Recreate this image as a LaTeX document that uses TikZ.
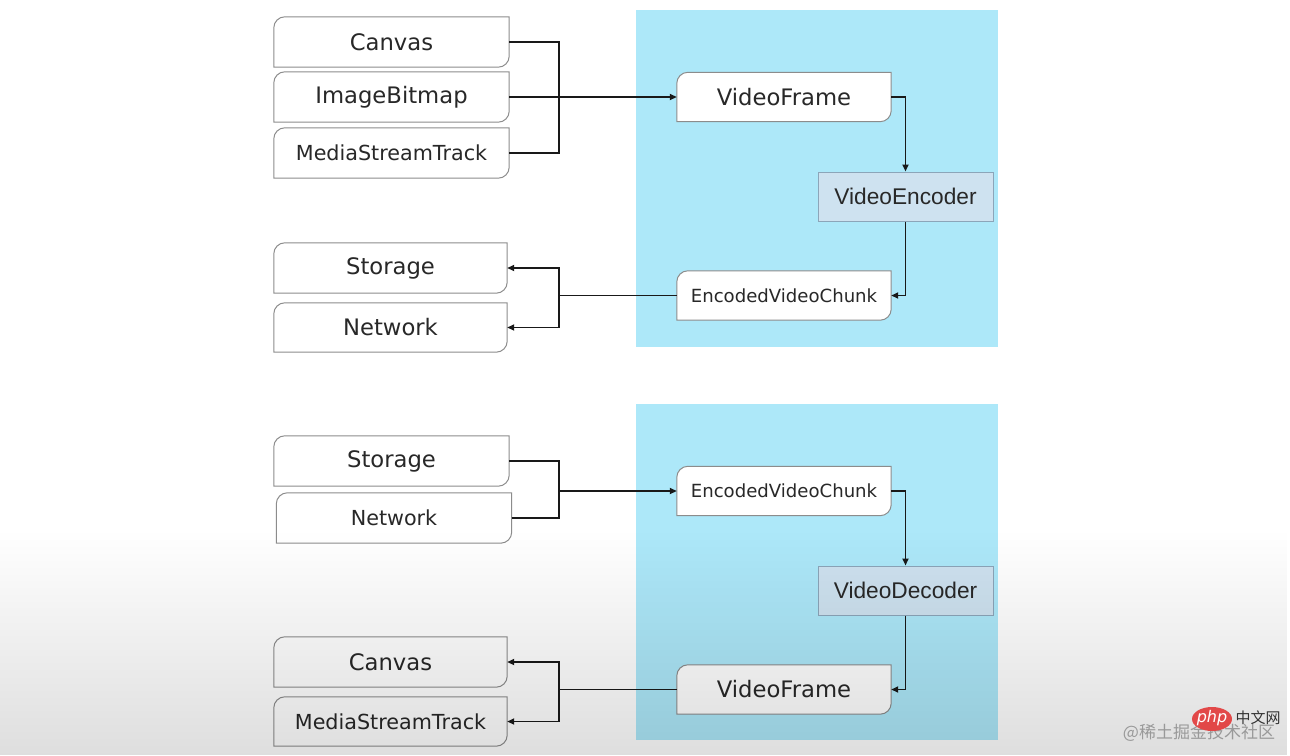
\documentclass[tikz,border=0pt]{standalone}
\usepackage{fontspec}
\setmainfont{DejaVu Sans}
\newfontfamily\arialfont{Liberation Sans}
\newfontfamily\cjkfont{Noto Sans CJK SC}
\usetikzlibrary{arrows.meta,fadings}
\definecolor{panelblue}{RGB}{173,232,249}
\definecolor{codecfill}{RGB}{206,226,240}
\definecolor{codecline}{RGB}{140,165,185}
\definecolor{boxline}{RGB}{140,140,140}
\definecolor{wirecol}{RGB}{25,25,25}
\definecolor{textgray}{RGB}{40,40,40}
\definecolor{phpred}{RGB}{226,72,72}
\pgfdeclarelayer{panel}
\pgfdeclarelayer{fill}
\pgfsetlayers{panel,fill,main}
\tikzset{
  srcbox/.style={inner sep=0pt, minimum width=235pt, minimum height=50pt, text=textgray, font=\fontsize{22.7}{26}\selectfont},
  codec/.style={draw=codecline, fill=codecfill, line width=1pt, inner sep=0pt, minimum width=175pt, minimum height=49pt, text=textgray, font=\arialfont\fontsize{22.7}{26}\selectfont},
  wire/.style={draw=wirecol, line width=1.8pt},
  feed/.style={wire, -{Triangle[length=7pt,width=6pt]}},
}
\begin{document}
\begin{tikzpicture}[x=1pt, y=-1pt]
    \useasboundingbox (0,0) rectangle (1290,755);
    \begin{pgfonlayer}{panel}
        \fill[white] (0,0) rectangle (1290,755);
        \fill[panelblue] (636,10) rectangle (998,347);
        \fill[panelblue] (636,404) rectangle (998,740);
    \end{pgfonlayer}

    % encoding
    \node [srcbox] at (391.5, 42) (canvasA) {Canvas};
    \node [srcbox] at (391.5, 97) (bitmapA) {ImageBitmap};
    \node [srcbox, font=\fontsize{20.7}{24}\selectfont] at (391.5, 153) (trackA) {MediaStreamTrack};
    \node [srcbox, minimum width=214pt, minimum height=49pt] at (784, 97) (frameA) {VideoFrame};
    \node [codec] at (905.5, 196.5) (encoder) {VideoEncoder};
    \node [srcbox, minimum width=214pt, minimum height=49pt, font=\fontsize{18.1}{22}\selectfont] at (784, 295.5) (chunkA) {EncodedVideoChunk};
    \node [srcbox, minimum width=233pt] at (390.5, 268) (storageA) {Storage};
    \node [srcbox, minimum width=233pt, minimum height=49pt] at (390.5, 327.5) (networkA) {Network};
    \coordinate (jA) at (559, 97);
    \coordinate (jB) at (559, 295.5);
    \draw [wire] (canvasA.east) -| (jA);
    \draw [wire] (trackA.east) -| (jA);
    \draw [feed] (bitmapA.east) -- (frameA.west);
    \draw [feed] (frameA.east) -| (encoder.north);
    \draw [feed] (encoder.south) |- (chunkA.east);
    \draw [wire] (chunkA.west) -- (jB);
    \draw [feed] (jB) |- (storageA.east);
    \draw [feed] (jB) |- (networkA.east);

    % decoding
    \node [srcbox] at (391.5, 461) (storageB) {Storage};
    \node [srcbox, font=\fontsize{20.7}{24}\selectfont] at (394, 518) (networkB) {Network};
    \node [srcbox, minimum width=214pt, minimum height=49pt, font=\fontsize{18.1}{22}\selectfont] at (784, 491) (chunkB) {EncodedVideoChunk};
    \node [codec] at (905.5, 590.5) (decoder) {VideoDecoder};
    \node [srcbox, minimum width=214pt, minimum height=49pt] at (784, 689.5) (frameB) {VideoFrame};
    \node [srcbox, minimum width=233pt] at (390.5, 662) (canvasB) {Canvas};
    \node [srcbox, minimum width=233pt, minimum height=49pt, font=\fontsize{20.7}{24}\selectfont] at (390.5, 721.5) (trackB) {MediaStreamTrack};
    \coordinate (jC) at (559, 491);
    \coordinate (jD) at (559, 689.5);
    \draw [wire] (storageB.east) -| (jC);
    \draw [wire] (networkB.east) -| (jC);
    \draw [feed] (jC) -- (chunkB.west);
    \draw [feed] (chunkB.east) -| (decoder.north);
    \draw [feed] (decoder.south) |- (frameB.east);
    \draw [wire] (frameB.west) -- (jD);
    \draw [feed] (jD) |- (canvasB.east);
    \draw [feed] (jD) |- (trackB.east);

    \begin{pgfonlayer}{fill}
        \foreach \b in {canvasA,bitmapA,trackA,frameA,chunkA,storageA,networkA,storageB,networkB,chunkB,frameB,canvasB,trackB}
            \filldraw [fill=white, draw=boxline, line width=1pt] (\b.south west) -- ([yshift=-11pt]\b.north west) .. controls ([yshift=-5pt]\b.north west) and ([xshift=5pt]\b.north west) .. ([xshift=11pt]\b.north west) -- (\b.north east) -- ([yshift=11pt]\b.south east) .. controls ([yshift=5pt]\b.south east) and ([xshift=-5pt]\b.south east) .. ([xshift=-11pt]\b.south east) -- cycle;
    \end{pgfonlayer}

    % video fade at the bottom
    \fill [black, opacity=0.13, path fading=north] (0,530) rectangle (1290,755);

    % watermark
    \node [font=\cjkfont\fontsize{17}{20}\selectfont, text=black!40, inner sep=0pt] at (1199, 733) (mark) {@稀土掘金技术社区};
    \fill [phpred] (1212, 719) ellipse [x radius=20pt, y radius=12pt];
    \node [font=\itshape\fontsize{16}{18}\selectfont, text=white, inner sep=0pt] at (1212, 718) (php) {php};
    \node [font=\cjkfont\fontsize{15}{18}\selectfont, text=black!80, inner sep=0pt] at (1258, 718) (cnweb) {中文网};
\end{tikzpicture}
\end{document}
